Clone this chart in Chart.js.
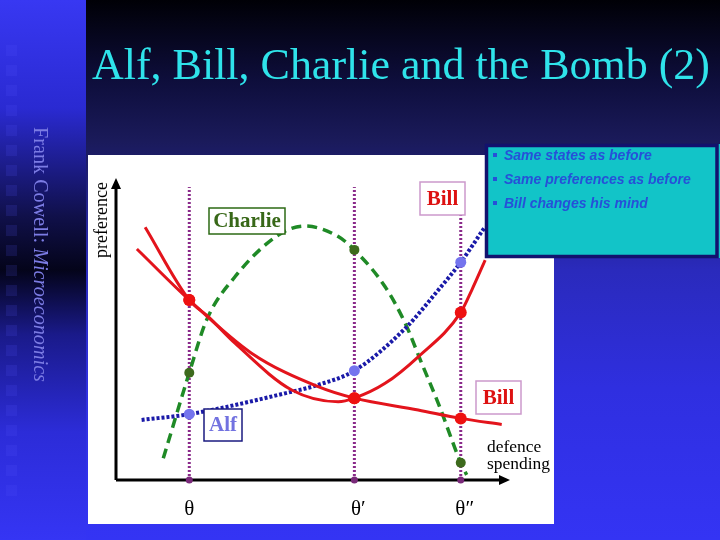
<!DOCTYPE html>
<html><head><meta charset="utf-8">
<script src="https://cdn.jsdelivr.net/npm/chart.js@4"></script>
<style>html,body{margin:0;padding:0;background:#000;}#wrap{width:720px;height:540px;}</style>
</head><body><div id="wrap"><canvas id="c" width="720" height="540"></canvas></div>
<script>
// ---------- data ----------
const titleText = 'Alf, Bill, Charlie and the Bomb (2)';
const sideText1 = 'Frank Cowell: ';
const sideText2 = 'Microeconomics';
const bullets = ['Same states as before', 'Same preferences as before', 'Bill changes his mind'];
const xAxisLabel = ['defence', 'spending'];
const yAxisLabel = 'preference';
const thetaLabels = ['\u03B8', '\u03B8\u2032', '\u03B8\u2033'];
const thetaX = [18.6, 60.5, 87.5];

const alfX = [6.5, 18.6, 42.9, 51.3, 60.5, 73.4, 81.8, 87.5, 93.7];
const alfY = [19.9, 21.8, 28.7, 31.5, 36.2, 50.2, 62.9, 72.1, 83.9];

const charlieX = [12.0, 18.6, 23.0, 30.2, 41.2, 48.0, 56.4, 60.5, 68.3, 73.4, 77.6, 81.8, 87.5, 89.0];
const charlieY = [7.2, 35.5, 53.0, 67.3, 81.1, 84.1, 80.6, 76.2, 64.0, 51.9, 38.6, 25.4, 5.7, 1.7];

const billOldX = [7.4, 18.6, 23.4, 30.2, 44.6, 56.4, 60.5, 68.3, 76.7, 87.5, 90.3, 93.7];
const billOldY = [83.7, 59.6, 54.1, 45.3, 29.8, 25.9, 27.1, 32.0, 40.8, 55.5, 62.9, 72.8];

const billNewX = [5.3, 18.6, 34.4, 51.3, 60.5, 76.7, 87.5, 97.9];
const billNewY = [76.5, 59.6, 42.0, 30.9, 27.1, 23.2, 20.4, 18.4];

const alfAtTheta = [21.8, 36.2, 72.1];
const charlieAtTheta = [35.5, 76.2, 5.7];
const billOldAtTheta = [59.6, 27.1, 55.5];
const billNewAtTheta = [59.6, 27.1, 20.4];

const labelNames = ['Charlie', 'Bill', 'Bill', 'Alf'];

// ---------- helpers ----------
const pts = (xs, ys) => xs.map((x, i) => ({x: x, y: ys[i]}));
function fitFont(ctx, text, style, family, width) {
  ctx.font = style + ' 100px ' + family;
  const w = ctx.measureText(text).width;
  return 100 * width / w;
}
const SERIF = '"Liberation Serif", "DejaVu Serif", serif';
const SANS = '"Liberation Sans", Arial, sans-serif';

const RED = '#e3141c';
const vlineSets = thetaX.map(x => ({
  data: [{x: x, y: 0}, {x: x, y: 97}],
  showLine: true, borderColor: '#8a2a8a', borderWidth: 3, borderDash: [2, 2],
  pointRadius: 0, order: 10, clip: false
}));

const datasets = [
  ...vlineSets,
  {data: pts(charlieX, charlieY), showLine: true, borderColor: '#1f8a26', borderWidth: 3.5,
   borderDash: [10, 6], pointRadius: 0, cubicInterpolationMode: 'monotone', order: 6, clip: false},
  {data: pts(alfX, alfY), showLine: true, borderColor: '#1a1aa8', borderWidth: 4,
   borderDash: [3, 2], pointRadius: 0, cubicInterpolationMode: 'monotone', order: 5, clip: false},
  {data: pts(billOldX, billOldY), showLine: true, borderColor: RED, borderWidth: 3,
   pointRadius: 0, cubicInterpolationMode: 'monotone', order: 4, clip: false},
  {data: pts(billNewX, billNewY), showLine: true, borderColor: RED, borderWidth: 3,
   pointRadius: 0, cubicInterpolationMode: 'monotone', order: 4, clip: false},
  {data: pts(thetaX, thetaX.map(() => 0)), showLine: false, pointRadius: 3.5,
   pointBackgroundColor: '#7a2a7a', pointBorderWidth: 0, order: 1, clip: false},
  {data: pts(thetaX, alfAtTheta), showLine: false, pointRadius: 5.5,
   pointBackgroundColor: '#7474ee', pointBorderWidth: 0, order: 1, clip: false},
  {data: pts(thetaX, charlieAtTheta), showLine: false, pointRadius: 5,
   pointBackgroundColor: '#3d6a1d', pointBorderWidth: 0, order: 1, clip: false},
  {data: pts(thetaX, billOldAtTheta), showLine: false, pointRadius: 6,
   pointBackgroundColor: '#ee1111', pointBorderWidth: 0, order: 1, clip: false},
  {data: pts(thetaX, billNewAtTheta), showLine: false, pointRadius: 6,
   pointBackgroundColor: '#ee1111', pointBorderWidth: 0, order: 1, clip: false}
];

const slidePlugin = {
  id: 'slide',
  beforeDraw(chart) {
    const ctx = chart.ctx;
    ctx.save();
    // main background
    let g = ctx.createLinearGradient(0, 0, 0, 540);
    g.addColorStop(0, '#000006');
    g.addColorStop(0.15, '#0e0e3c');
    g.addColorStop(0.26, '#1a1a5a');
    g.addColorStop(0.5, '#2a2abc');
    g.addColorStop(0.72, '#2f2fe0');
    g.addColorStop(1, '#3434f4');
    ctx.fillStyle = g; ctx.fillRect(0, 0, 720, 540);
    // left strip
    g = ctx.createLinearGradient(0, 0, 0, 540);
    g.addColorStop(0, '#3838f2');
    g.addColorStop(0.2, '#2a2ad2');
    g.addColorStop(0.4, '#10104a');
    g.addColorStop(0.5, '#04041a');
    g.addColorStop(0.62, '#1a1a8a');
    g.addColorStop(0.8, '#2c2cd8');
    g.addColorStop(1, '#3535f4');
    ctx.fillStyle = g; ctx.fillRect(0, 0, 86, 540);
    // square pattern
    for (let y = 45; y < 500; y += 20) {
      ctx.fillStyle = 'rgba(90,90,255,0.15)';
      ctx.fillRect(6, y, 11, 11);
    }
    // title
    const tf = fitFont(ctx, titleText, 'normal', SERIF, 618);
    ctx.font = tf + 'px ' + SERIF;
    ctx.fillStyle = '#2fe3ea';
    ctx.textBaseline = 'alphabetic';
    ctx.textAlign = 'left';
    ctx.fillText(titleText, 92, 78.5);
    // side text
    ctx.save();
    ctx.translate(34, 127);
    ctx.rotate(Math.PI / 2);
    ctx.font = '100px ' + SERIF;
    const w1 = ctx.measureText(sideText1).width;
    ctx.font = 'italic 100px ' + SERIF;
    const w2 = ctx.measureText(sideText2).width;
    const sf = 100 * 255 / (w1 + w2);
    ctx.fillStyle = '#7c7ce4';
    ctx.font = sf + 'px ' + SERIF;
    ctx.fillText(sideText1, 0, 0);
    ctx.font = 'italic ' + sf + 'px ' + SERIF;
    ctx.fillText(sideText2, w1 * sf / 100, 0);
    ctx.restore();
    // white panel
    ctx.fillStyle = '#ffffff';
    ctx.fillRect(88, 155, 466, 369);
    ctx.restore();
  },
  beforeDatasetsDraw(chart) {
    const ctx = chart.ctx;
    const xs = chart.scales.x, ys = chart.scales.y;
    const x0 = xs.getPixelForValue(0), y0 = ys.getPixelForValue(0);
    const xe = xs.getPixelForValue(100), ye = ys.getPixelForValue(100);
    ctx.save();
    ctx.strokeStyle = '#000'; ctx.fillStyle = '#000'; ctx.lineWidth = 3;
    ctx.beginPath();
    ctx.moveTo(x0, y0); ctx.lineTo(x0, ye + 8);
    ctx.moveTo(x0, y0); ctx.lineTo(xe - 8, y0);
    ctx.stroke();
    ctx.beginPath();
    ctx.moveTo(x0, ye); ctx.lineTo(x0 - 5, ye + 11); ctx.lineTo(x0 + 5, ye + 11); ctx.closePath(); ctx.fill();
    ctx.beginPath();
    ctx.moveTo(xe, y0); ctx.lineTo(xe - 11, y0 - 5); ctx.lineTo(xe - 11, y0 + 5); ctx.closePath(); ctx.fill();
    ctx.restore();
  },
  afterDatasetsDraw(chart) {
    const ctx = chart.ctx;
    const xs = chart.scales.x, ys = chart.scales.y;
    ctx.save();
    // theta labels
    ctx.fillStyle = '#000';
    ctx.font = '21px ' + SERIF;
    ctx.textAlign = 'center'; ctx.textBaseline = 'alphabetic';
    thetaX.forEach((x, i) => {
      const px = xs.getPixelForValue(x);
      ctx.fillText(thetaLabels[i], px + (i ? 4 : 0), 515);
    });
    // axis labels
    ctx.textAlign = 'left';
    const df = fitFont(ctx, xAxisLabel[1], 'normal', SERIF, 63);
    ctx.font = df + 'px ' + SERIF;
    ctx.fillText(xAxisLabel[0], 487, 452);
    ctx.fillText(xAxisLabel[1], 487, 469);
    ctx.save();
    ctx.translate(107, 258);
    ctx.rotate(-Math.PI / 2);
    const pf = fitFont(ctx, yAxisLabel, 'normal', SERIF, 76);
    ctx.font = pf + 'px ' + SERIF;
    ctx.fillText(yAxisLabel, 0, 0);
    ctx.restore();
    // label boxes
    const boxes = [
      {t: labelNames[0], x: 209, y: 208, w: 76, h: 26, c: '#386818', b: '#2c6a14'},
      {t: labelNames[1], x: 420, y: 182, w: 45, h: 33, c: '#dd1111', b: '#cc99cc'},
      {t: labelNames[2], x: 476, y: 381, w: 45, h: 33, c: '#dd1111', b: '#cc99cc'},
      {t: labelNames[3], x: 204, y: 409, w: 38, h: 32, c: '#7272e0', b: '#1a1a80'}
    ];
    boxes.forEach(b => {
      ctx.fillStyle = '#fff';
      ctx.fillRect(b.x, b.y, b.w, b.h);
      ctx.strokeStyle = b.b; ctx.lineWidth = 1.5;
      ctx.strokeRect(b.x, b.y, b.w, b.h);
      ctx.fillStyle = b.c;
      ctx.font = 'bold 21px ' + SERIF;
      ctx.textAlign = 'center'; ctx.textBaseline = 'middle';
      ctx.fillText(b.t, b.x + b.w / 2, b.y + b.h / 2 + 1);
    });
    // info box
    ctx.fillStyle = '#12c4c8';
    ctx.fillRect(485, 144, 235, 114);
    ctx.strokeStyle = '#12126e'; ctx.lineWidth = 3.5;
    ctx.strokeRect(486.5, 145.5, 230.5, 111);
    const bf = fitFont(ctx, bullets[1], 'italic bold', SANS, 187);
    ctx.font = 'italic bold ' + bf + 'px ' + SANS;
    ctx.textAlign = 'left'; ctx.textBaseline = 'alphabetic';
    bullets.forEach((t, i) => {
      const by = 160 + i * 24;
      ctx.fillStyle = '#2650d8';
      ctx.fillRect(493, by - 7, 4, 4);
      ctx.fillText(t, 504, by);
    });
    ctx.restore();
  }
};

new Chart(document.getElementById('c'), {
  type: 'scatter',
  data: {datasets: datasets},
  options: {
    responsive: false, animation: false,
    layout: {padding: {left: 116, right: 210, top: 178, bottom: 60}},
    plugins: {legend: {display: false}, tooltip: {enabled: false}},
    scales: {
      x: {type: 'linear', min: 0, max: 100, display: false},
      y: {type: 'linear', min: 0, max: 100, display: false}
    }
  },
  plugins: [slidePlugin]
});
</script></body></html>
